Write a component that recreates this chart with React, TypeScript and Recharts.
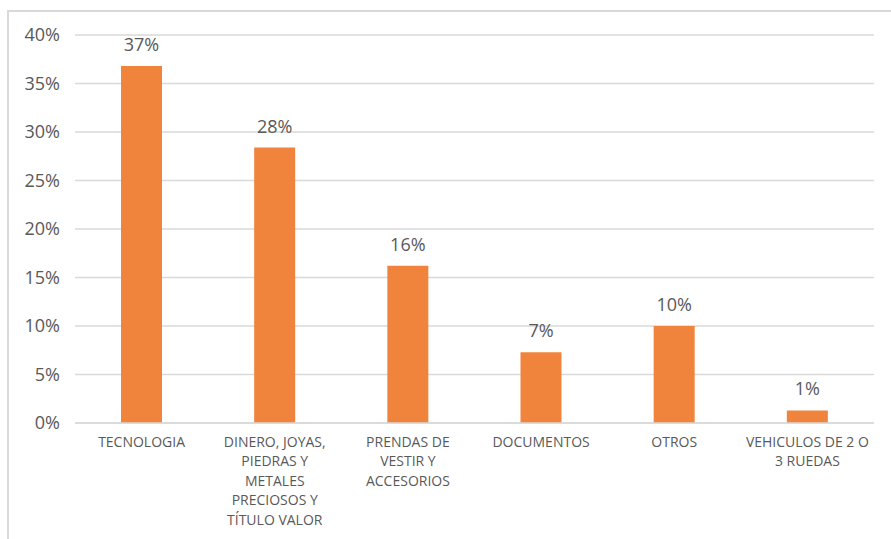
import { BarChart, Bar, XAxis, YAxis, CartesianGrid, LabelList } from 'recharts';

const categories = [
  'TECNOLOGIA',
  'DINERO, JOYAS, PIEDRAS Y METALES PRECIOSOS Y TÍTULO VALOR',
  'PRENDAS DE VESTIR Y ACCESORIOS',
  'DOCUMENTOS',
  'OTROS',
  'VEHICULOS DE 2 O 3 RUEDAS'
];

// wrapped lines as they appear under each bar
const categoryLines = [
  ['TECNOLOGIA'],
  ['DINERO, JOYAS,', 'PIEDRAS Y', 'METALES', 'PRECIOSOS Y', 'TÍTULO VALOR'],
  ['PRENDAS DE', 'VESTIR Y', 'ACCESORIOS'],
  ['DOCUMENTOS'],
  ['OTROS'],
  ['VEHICULOS DE 2 O', '3 RUEDAS']
];

const shares = [36.8, 28.4, 16.2, 7.3, 10.0, 1.3];

const yTicks = [0, 5, 10, 15, 20, 25, 30, 35, 40];

const data = categories.map((name, i) => ({ name, idx: i, value: shares[i] }));

const FONT = '"Open Sans", "Noto Sans", sans-serif';
const TEXT = '#595959';

function CategoryTick(props: any) {
  const { x, y, index } = props;
  const lines = categoryLines[index] || [];
  return (
    <g>
      {lines.map((line, i) => (
        <text
          key={i}
          x={x}
          y={y + 18 + i * 19.5}
          textAnchor="middle"
          dominantBaseline="central"
          fill={TEXT}
          fontSize={14}
          fontFamily={FONT}
        >
          {line}
        </text>
      ))}
    </g>
  );
}

export default function App() {
  return (
    <div style={{ position: 'absolute', left: 0, top: 0, width: 891, height: 539, overflow: 'hidden', background: '#fff' }}>
      <div
        style={{
          position: 'absolute',
          left: 7,
          top: 10,
          width: 1000,
          height: 1000,
          borderTop: '2px solid #d9d9d9',
          borderLeft: '2px solid #d9d9d9'
        }}
      />
      <div style={{ position: 'absolute', left: 0, top: 0 }}>
        <BarChart
          width={891}
          height={539}
          data={data}
          margin={{ top: 35, right: 17, bottom: 0, left: 0 }}
          barSize={41}
        >
          <CartesianGrid vertical={false} stroke="#d9d9d9" strokeWidth={1.5} />
          <XAxis
            dataKey="name"
            interval={0}
            height={116}
            tickLine={false}
            tickSize={0}
            tickMargin={0}
            axisLine={{ stroke: '#d9d9d9', strokeWidth: 1.5 }}
            tick={<CategoryTick />}
          />
          <YAxis
            width={75}
            domain={[0, 40]}
            ticks={yTicks}
            axisLine={false}
            tickLine={false}
            tickSize={0}
            tickMargin={15}
            tickFormatter={(v: number) => `${v}%`}
            tick={{ fill: TEXT, fontSize: 18, fontFamily: FONT }}
          />
          <Bar dataKey="value" fill="#F0843C" isAnimationActive={false}>
            <LabelList
              dataKey="value"
              position="top"
              offset={15}
              formatter={(v: any) => `${Math.round(Number(v))}%`}
              style={{ fill: TEXT, fontSize: 18, fontFamily: FONT }}
            />
          </Bar>
        </BarChart>
      </div>
    </div>
  );
}
